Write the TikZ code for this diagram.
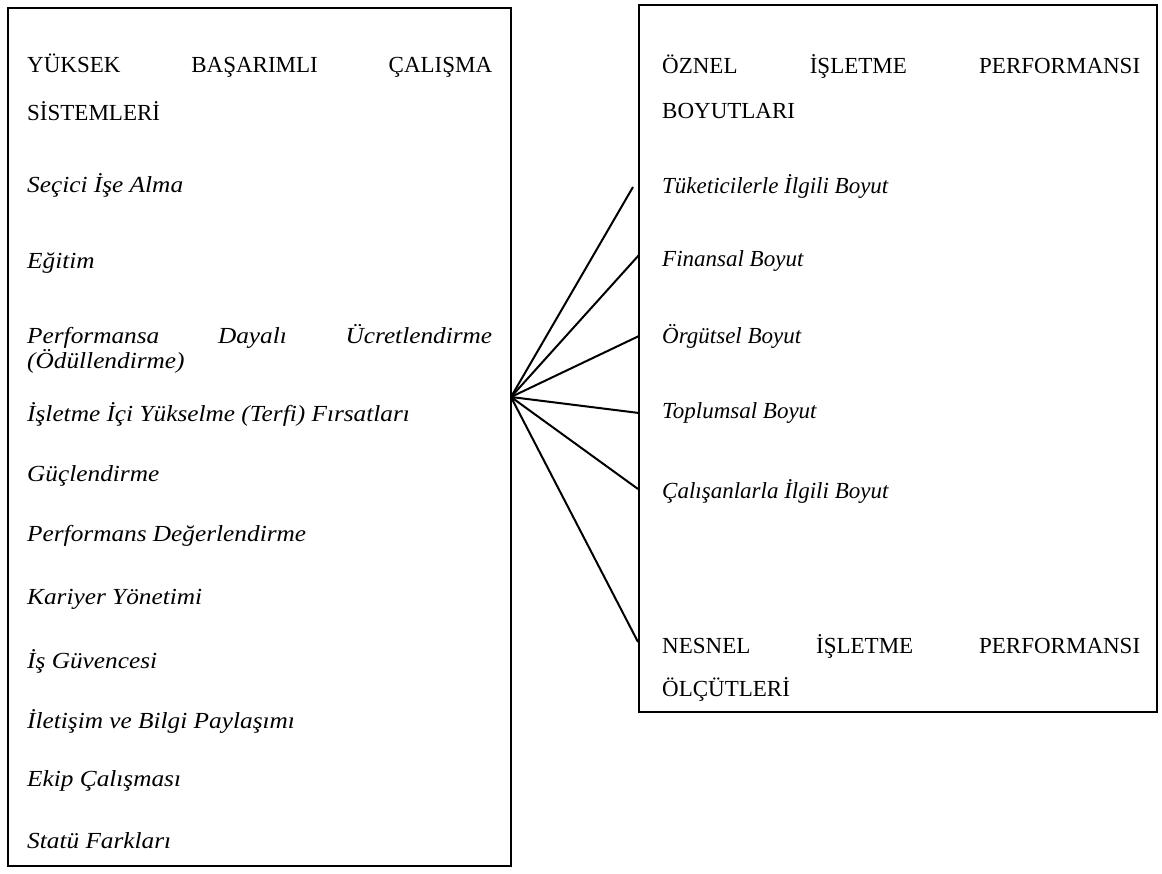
\documentclass[tikz,border=0pt]{standalone}
\usepackage{fontspec}
\setmainfont{Liberation Serif}
\newfontfamily\leftit[FakeStretch=1.1]{Liberation Serif Italic}
\begin{document}
\begin{tikzpicture}[x=1pt,y=-1pt,
  box/.style={draw=black,line width=2.8pt},
  txt/.style={anchor=west,inner sep=0pt,font=\fontsize{23}{27}\selectfont},
  itm/.style={txt,font=\fontsize{23}{27}\selectfont\itshape},
  litm/.style={txt,font=\fontsize{23}{27}\selectfont\leftit},
  link/.style={draw=black,line width=2pt}]
\useasboundingbox (0,0) rectangle (1162,874);
\draw[box] (8,8) rectangle (511,866);
\draw[box] (639,5) rectangle (1157,712);
% left box texts
\node[txt] (l0) at (27,66) {\hbox to 465pt{YÜKSEK\hfill BAŞARIMLI\hfill ÇALIŞMA}};
\node[txt] (l0b) at (27,111) {SİSTEMLERİ};
\node[litm] (l1) at (27,185) {Seçici İşe Alma};
\node[litm] (l2) at (27,263) {Eğitim};
\node[litm] (l3) at (27,336) {\hbox to 465pt{Performansa\hfill Dayalı\hfill Ücretlendirme}};
\node[litm] (l3b) at (27,361) {(Ödüllendirme)};
\node[litm] (l4) at (27,414) {İşletme İçi Yükselme (Terfi) Fırsatları};
\node[litm] (l5) at (27,476) {Güçlendirme};
\node[litm] (l6) at (27,536) {Performans Değerlendirme};
\node[litm] (l7) at (27,599) {Kariyer Yönetimi};
\node[litm] (l8) at (27,661) {İş Güvencesi};
\node[litm] (l9) at (27,721) {İletişim ve Bilgi Paylaşımı};
\node[litm] (l10) at (27,781) {Ekip Çalışması};
\node[litm] (l11) at (27,841) {Statü Farkları};
% right box texts
\node[txt] (r0) at (662,66) {\hbox to 478pt{ÖZNEL\hfill İŞLETME\hfill PERFORMANSI}};
\node[txt] (r0b) at (662,111) {BOYUTLARI};
\node[itm] (r1) at (662,186) {Tüketicilerle İlgili Boyut};
\node[itm] (r2) at (662,261) {Finansal Boyut};
\node[itm] (r3) at (662,336) {Örgütsel Boyut};
\node[itm] (r4) at (662,413) {Toplumsal Boyut};
\node[itm] (r5) at (662,491) {Çalışanlarla İlgili Boyut};
\node[txt] (r6) at (662,646) {\hbox to 478pt{NESNEL\hfill İŞLETME\hfill PERFORMANSI}};
\node[txt] (r6b) at (662,689) {ÖLÇÜTLERİ};
% connectors
\coordinate (hub) at (511,397);
\coordinate (e1) at (633,187);
\coordinate (e2) at (639,255);
\coordinate (e3) at (639,336);
\coordinate (e4) at (639,413);
\coordinate (e5) at (638,489);
\coordinate (e6) at (638,642);
\foreach \e in {e1,e2,e3,e4,e5,e6} \draw[link] (hub) -- (\e);
\end{tikzpicture}
\end{document}
